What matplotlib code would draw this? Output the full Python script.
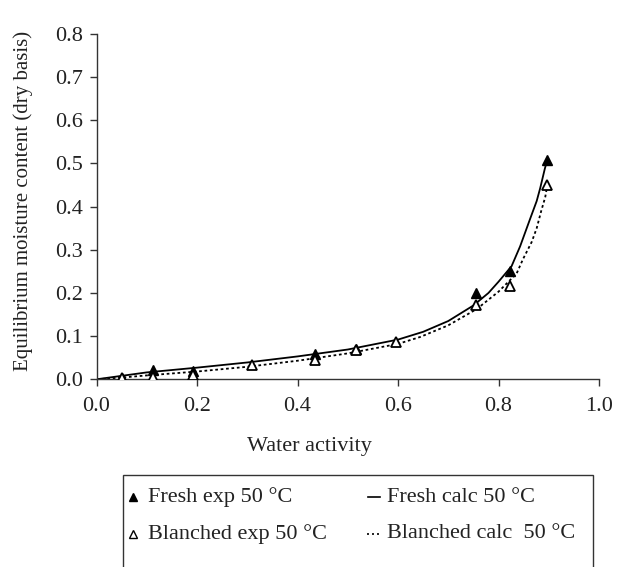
import matplotlib
matplotlib.use("Agg")
import matplotlib.pyplot as plt
from matplotlib.lines import Line2D
from matplotlib.patches import Rectangle

plt.rcParams['font.family'] = ['Liberation Serif', 'DejaVu Serif']

# Experimental sorption points at 50 °C
fresh_aw = [0.050, 0.113, 0.192, 0.435, 0.516, 0.755, 0.823, 0.897]
fresh_emc = [0.004, 0.021, 0.019, 0.058, 0.071, 0.200, 0.250, 0.508]
blanched_aw = [0.050, 0.113, 0.192, 0.310, 0.435, 0.516, 0.597, 0.755, 0.823, 0.897]
blanched_emc = [0.004, 0.006, 0.009, 0.033, 0.044, 0.067, 0.086, 0.171, 0.217, 0.450]

# Calculated isotherm curves
fresh_calc_aw = [0.0, 0.05, 0.10, 0.20, 0.30, 0.40, 0.50, 0.60, 0.65, 0.70, 0.75,
                 0.78, 0.80, 0.826, 0.843, 0.863, 0.876, 0.883, 0.892, 0.897]
fresh_calc_emc = [0.0, 0.008, 0.016, 0.027, 0.039, 0.053, 0.069, 0.092, 0.110, 0.135,
                  0.171, 0.200, 0.226, 0.262, 0.308, 0.372, 0.413, 0.443, 0.487, 0.508]
blanched_calc_aw = [0.0, 0.05, 0.10, 0.20, 0.30, 0.40, 0.50, 0.60, 0.644, 0.70, 0.757,
                    0.80, 0.836, 0.849, 0.866, 0.876, 0.885, 0.893, 0.897]
blanched_calc_emc = [0.0, 0.004, 0.009, 0.018, 0.029, 0.043, 0.060, 0.082, 0.098, 0.125,
                     0.163, 0.203, 0.245, 0.279, 0.318, 0.350, 0.390, 0.422, 0.449]

x_ticks = [0.0, 0.2, 0.4, 0.6, 0.8, 1.0]
y_ticks = [0.0, 0.1, 0.2, 0.3, 0.4, 0.5, 0.6, 0.7, 0.8]

W, H = 633, 567
fig = plt.figure(figsize=(W / 100, H / 100), dpi=100)
ax = fig.add_axes([96.5 / W, 1 - 379.3 / H, (599 - 96.5) / W, (379.3 - 34) / H])

ax.plot(fresh_calc_aw, fresh_calc_emc, color='black', lw=1.3)
ax.plot(blanched_calc_aw, blanched_calc_emc, color='black', lw=1.3,
        linestyle=(0, (1.5, 1.5)))
ax.plot(fresh_aw, fresh_emc, linestyle='none', marker='^', markersize=7.5,
        color='black', zorder=3)
ax.plot(blanched_aw, blanched_emc, linestyle='none', marker='^', markersize=7.5,
        markerfacecolor='white', markeredgecolor='black', markeredgewidth=1.3, zorder=4)

ax.set_xlim(0, 1.0)
ax.set_ylim(0, 0.8)
ax.set_xticks(x_ticks)
ax.set_yticks(y_ticks)
ax.set_xticklabels([f"{v:.1f}" for v in x_ticks])
ax.set_yticklabels([f"{v:.1f}" for v in y_ticks])
ax.tick_params(axis='both', direction='out', length=5, width=1.0, colors='#333333',
               labelsize=16, labelcolor='#222222')
ax.tick_params(axis='y', pad=5)
ax.tick_params(axis='x', pad=8)
for side in ('top', 'right'):
    ax.spines[side].set_visible(False)
for side in ('left', 'bottom'):
    ax.spines[side].set_color('#333333')
    ax.spines[side].set_linewidth(1.0)

fig.text(309 / W, 1 - 447 / H, 'Water activity', ha='center', va='center',
         fontsize=16, color='#222222')
fig.text(23 / W, 1 - 201 / H, 'Equilibrium moisture content (dry basis)',
         ha='center', va='center', rotation=90, fontsize=15, color='#222222')

# Legend box drawn in figure coordinates
fig.patches.append(Rectangle((123 / W, -0.05), (593 - 123) / W, 0.05 + 1 - 475 / H,
                             transform=fig.transFigure, fill=False,
                             edgecolor='#333333', linewidth=1.0))
row1 = 1 - 497 / H
row2 = 1 - 534 / H
fig.lines.append(Line2D([133 / W], [row1], transform=fig.transFigure, marker='^',
                        markersize=6, color='black', linestyle='none'))
fig.lines.append(Line2D([133 / W], [row2], transform=fig.transFigure, marker='^',
                        markersize=6, markerfacecolor='white', markeredgecolor='black',
                        markeredgewidth=1.0, linestyle='none'))
fig.lines.append(Line2D([368 / W, 380 / W], [row1, row1], transform=fig.transFigure,
                        color='black', lw=1.2))
fig.lines.append(Line2D([367 / W, 380 / W], [row2, row2], transform=fig.transFigure,
                        color='black', lw=1.2, linestyle=(0, (1.2, 1.8))))
legend_texts = [
    (148, row1, 'Fresh exp 50 °C'),
    (148, row2, 'Blanched exp 50 °C'),
    (387, row1, 'Fresh calc 50 °C'),
    (387, row2, 'Blanched calc  50 °C'),
]
for x, y, s in legend_texts:
    fig.text(x / W, y, s, ha='left', va='center', fontsize=16, color='#222222')

fig.savefig('out.png', dpi=100)
